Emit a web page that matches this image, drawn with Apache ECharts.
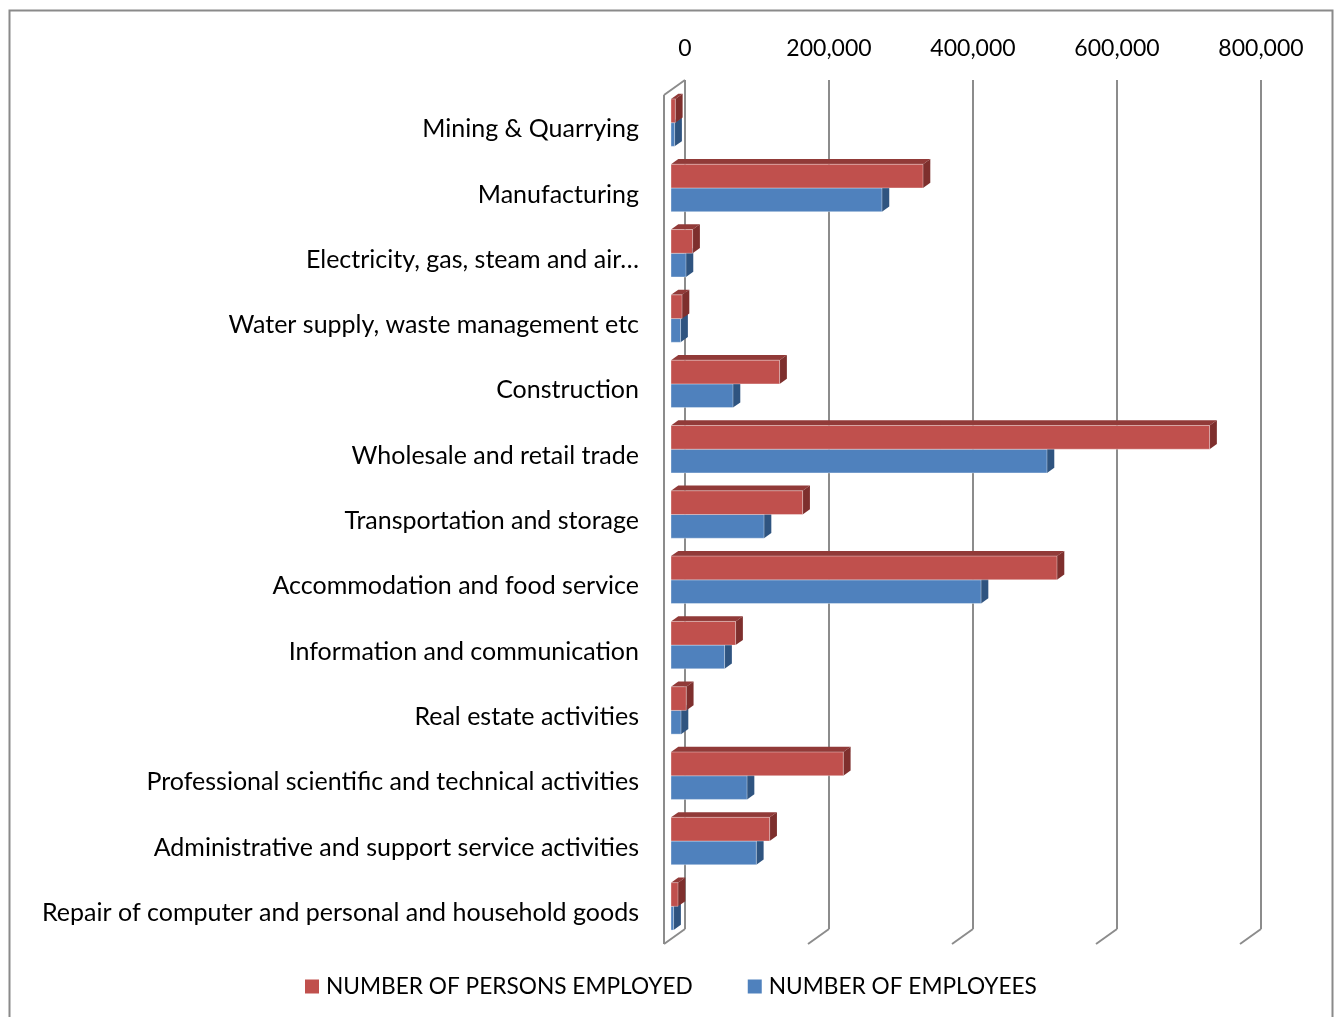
<!DOCTYPE html>
<html>
<head>
<meta charset="utf-8">
<script src="https://cdn.jsdelivr.net/npm/echarts@6/dist/echarts.min.js"></script>
<style>html,body{margin:0;padding:0;background:#fff;}#c{width:1334px;height:1017px;}</style>
</head>
<body>
<div id="c"></div>
<script>
const categories = ['Mining & Quarrying', 'Manufacturing', 'Electricity, gas, steam and air…', 'Water supply, waste management etc', 'Construction', 'Wholesale and retail trade', 'Transportation and storage', 'Accommodation and food service', 'Information and communication', 'Real estate activities', 'Professional scientific and technical activities', 'Administrative and support service activities', 'Repair of computer and personal and household goods'];
const personsEmployed = [6000, 350000, 30000, 15300, 150800, 748000, 182800, 536100, 89700, 21200, 239300, 137000, 9700];
const employees = [5000, 293000, 20800, 13300, 86100, 522200, 129200, 430600, 74400, 13900, 105600, 118500, 3600];
const xTicks = [0, 200000, 400000, 600000, 800000];
const seriesNames = ['NUMBER OF PERSONS EMPLOYED', 'NUMBER OF EMPLOYEES'];

const FONT = 'Lato, "Open Sans", sans-serif';
// fit font sizes to reference text widths
const cv = document.createElement('canvas').getContext('2d');
cv.font = '20px ' + FONT;
const fs = Math.round(20 * 594 / cv.measureText(categories[12]).width * 2) / 2;
const fsAxis = Math.round(20 * 86 / cv.measureText('200,000').width * 2) / 2;
const fsLeg = 20 * 367 / cv.measureText(seriesNames[0]).width;

// 3D styling constants (pixels)
const FX = -14, FY = 10;      // front plane shift from back plane
const DX = 7.3, DY = -5.2;    // bar depth
const WX = -21, WY = 15;      // wall/floor depth

function barRender(slot, front, top, side) {
  return function (params, api) {
    const cat = api.value(1), v = api.value(0);
    const p0 = api.coord([0, cat]);
    const p1 = api.coord([v, cat]);
    const band = api.size([0, 1])[1];
    const h = band * 0.363;
    const x0 = p0[0] + FX, x1 = p1[0] + FX;
    const yc = p0[1] + FY;
    const yTop = slot === 0 ? yc - h : yc;
    const yBot = yTop + h;
    return {
      type: 'group',
      children: [
        { type: 'polygon', shape: { points: [[x0, yTop], [x0 + DX, yTop + DY], [x1 + DX, yTop + DY], [x1, yTop]] }, style: { fill: top } },
        { type: 'polygon', shape: { points: [[x1, yTop], [x1 + DX, yTop + DY], [x1 + DX, yBot + DY], [x1, yBot]] }, style: { fill: side } },
        { type: 'rect', shape: { x: x0, y: yTop, width: Math.max(x1 - x0, 0.5), height: h }, style: { fill: front, stroke: 'rgba(255,255,255,0.35)', lineWidth: 1 } }
      ]
    };
  };
}

function frameRender(params, api) {
  const cs = params.coordSys;
  const v = api.value(0);
  const p = api.coord([v, 0]);
  const yb = cs.y + cs.height;
  const ls = { stroke: '#8c8c8c', lineWidth: 2 };
  const children = [
    { type: 'line', shape: { x1: p[0], y1: yb, x2: p[0] + WX, y2: yb + WY }, style: ls }
  ];
  if (params.dataIndex === 0) {
    children.push({ type: 'line', shape: { x1: p[0], y1: cs.y, x2: p[0] + WX, y2: cs.y + WY }, style: ls });
    children.push({ type: 'line', shape: { x1: p[0] + WX, y1: cs.y + WY, x2: p[0] + WX, y2: yb + WY }, style: ls });
  }
  return { type: 'group', children: children };
}

const chart = echarts.init(document.getElementById('c'), null, { renderer: 'canvas' });
chart.setOption({
  animation: false,
  backgroundColor: '#ffffff',
  textStyle: { fontFamily: FONT },
  graphic: [{
    type: 'rect', left: 7, top: 8, shape: { width: 1323, height: 1030 },
    style: { fill: 'none', stroke: '#8a8a8a', lineWidth: 2 }, silent: true, z: -10
  }],
  grid: { left: 685, right: 73, top: 80, bottom: 88, containLabel: false },
  legend: {
    data: seriesNames,
    left: 300, top: 970,
    itemWidth: 14, itemHeight: 14, itemGap: 55,
    icon: 'rect',
    textStyle: { fontSize: fsLeg, color: '#000', fontFamily: FONT, padding: [0, 0, 0, 2] }
  },
  xAxis: {
    type: 'value', position: 'top', min: 0, max: 800000, interval: 200000,
    axisLine: { show: false }, axisTick: { show: false },
    axisLabel: { margin: 20, fontSize: fsAxis, color: '#000', formatter: v => v.toLocaleString('en-US') },
    splitLine: { show: true, lineStyle: { color: '#8c8c8c', width: 2 } }
  },
  yAxis: {
    type: 'category', data: categories, inverse: true,
    axisLine: { show: false }, axisTick: { show: false },
    axisLabel: { interval: 0, margin: 46, fontSize: fs, color: '#000', verticalAlign: 'top', lineHeight: 33 },
    splitLine: { show: false }
  },
  series: [
    {
      type: 'custom', name: 'frame', silent: true, clip: false, z: 1,
      data: xTicks.map(v => [v, 0]), encode: { x: 0, y: 1 },
      renderItem: frameRender
    },
    {
      type: 'custom', name: seriesNames[1], z: 2, clip: false,
      itemStyle: { color: '#4f81bd' },
      data: employees.map((v, i) => [v, i]), encode: { x: 0, y: 1 },
      renderItem: barRender(1, '#4f81bd', '#3c6699', '#2f5480')
    },
    {
      type: 'custom', name: seriesNames[0], z: 3, clip: false,
      itemStyle: { color: '#c0504d' },
      data: personsEmployed.map((v, i) => [v, i]), encode: { x: 0, y: 1 },
      renderItem: barRender(0, '#c0504d', '#913a38', '#7e2f2d')
    }
  ]
});
</script>
</body>
</html>
